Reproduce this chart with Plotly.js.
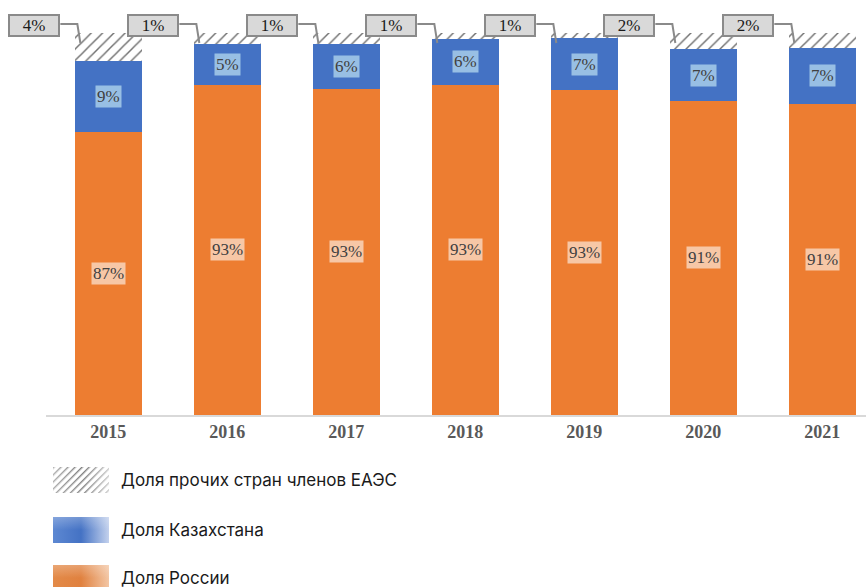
<!DOCTYPE html>
<html>
<head>
<meta charset="utf-8">
<script src="https://cdn.plot.ly/plotly-3.0.1.min.js"></script>
<style>html,body{margin:0;padding:0;background:#fff;}#chart{width:866px;height:587px;}</style>
</head>
<body>
<div id="chart"></div>
<script>
// ---- data (shares, %) ----
const years = ['2015', '2016', '2017', '2018', '2019', '2020', '2021'];
const russia = [87.4, 93.4, 92.9, 93.4, 92.75, 91.35, 90.97];
const kazakhstan = [9.0, 5.2, 5.7, 5.85, 6.6, 6.6, 7.16];
const others = [3.6, 1.4, 1.4, 0.75, 0.65, 2.05, 1.87];
const seriesNames = ['Доля прочих стран членов ЕАЭС', 'Доля Казахстана', 'Доля России'];

// ---- layout geometry ----
const W = 866, H = 587;
const M = {l: 46, r: 0, t: 33, b: 172};
const yMin = 51.4, yMax = 100;
const plotW = W - M.l - M.r, plotH = H - M.t - M.b;
const px2paperX = px => (px - M.l) / plotW;
const px2paperY = py => (H - M.b - py) / plotH;

const idx = years.map((_, i) => i);
const serif = 'Liberation Serif, Times New Roman, serif';

const traces = [
  {type: 'bar', x: idx, y: russia, name: seriesNames[2],
   marker: {color: '#ed7d31', line: {width: 0}}, hoverinfo: 'skip'},
  {type: 'bar', x: idx, y: kazakhstan, name: seriesNames[1],
   marker: {color: '#4472c4', line: {width: 0}}, hoverinfo: 'skip'},
  {type: 'bar', x: idx, y: others, name: seriesNames[0],
   marker: {color: '#ffffff', line: {width: 0},
     pattern: {shape: '/', fgcolor: '#6f6f6f', bgcolor: '#ffffff', size: 8, solidity: 0.18, fillmode: 'replace'}},
   hoverinfo: 'skip'}
];

const annotations = [];
const shapes = [];
idx.forEach(i => {
  // Russia label (centre of the visible segment)
  annotations.push({x: i, y: (yMin + russia[i]) / 2, xref: 'x', yref: 'y', showarrow: false,
    text: Math.round(russia[i]) + '%', font: {family: serif, size: 17, color: '#404040'},
    bgcolor: 'rgba(248,203,173,0.95)', borderpad: 1});
  // Kazakhstan label
  annotations.push({x: i, y: russia[i] + kazakhstan[i] / 2, xref: 'x', yref: 'y', showarrow: false,
    text: Math.round(kazakhstan[i]) + '%', font: {family: serif, size: 17, color: '#404040'},
    bgcolor: 'rgba(157,195,230,0.95)', borderpad: 1});
  // Others callout box (anchored at the top of the stack, clamped to the axis range)
  const top = Math.min(russia[i] + kazakhstan[i] + others[i], yMax - 1e-6);
  annotations.push({x: i, y: top, xref: 'x', yref: 'y', showarrow: false,
    xshift: -74, yshift: 8,
    text: Math.round(others[i]) + '%', font: {family: serif, size: 17, color: '#1a1a1a'},
    bgcolor: '#d9d9d9', bordercolor: '#8a8a8a', borderwidth: 2, borderpad: 1,
    width: 46, height: 17});
  // Leader line (elbow) from the box to the hatched segment
  shapes.push({type: 'path', xref: 'x', yref: 'paper', xsizemode: 'pixel', ysizemode: 'pixel',
    xanchor: i, yanchor: 1, path: 'M-48,9 L-31,9 L-28,-10',
    line: {color: '#8a8a8a', width: 2}, layer: 'above'});
});

// ---- manual legend (large gradient swatches) ----
const svg = s => 'data:image/svg+xml;charset=utf-8,' + encodeURIComponent(s);
const hatchSvg = svg('<svg xmlns="http://www.w3.org/2000/svg" width="56" height="26">' +
  '<defs><pattern id="p" width="5" height="5" patternUnits="userSpaceOnUse" patternTransform="rotate(45)">' +
  '<rect width="1.4" height="5" fill="#777"/></pattern>' +
  '<linearGradient id="f" x1="0" x2="1" y1="0" y2="0"><stop offset="0" stop-color="#fff" stop-opacity="0.4"/>' +
  '<stop offset="0.55" stop-color="#fff" stop-opacity="0.05"/><stop offset="1" stop-color="#fff" stop-opacity="0.6"/></linearGradient></defs>' +
  '<rect width="56" height="26" fill="#fff"/><rect width="56" height="26" fill="url(#p)"/><rect width="56" height="26" fill="url(#f)"/></svg>');
const gradSvg = (c0, c1, c2) => svg('<svg xmlns="http://www.w3.org/2000/svg" width="56" height="26">' +
  '<defs><linearGradient id="g" x1="0" x2="1" y1="0" y2="0">' +
  '<stop offset="0" stop-color="' + c0 + '"/><stop offset="0.5" stop-color="' + c1 + '"/>' +
  '<stop offset="1" stop-color="' + c2 + '"/></linearGradient>' +
  '<linearGradient id="v" x1="0" x2="0" y1="0" y2="1"><stop offset="0" stop-color="#fff" stop-opacity="0.25"/>' +
  '<stop offset="0.5" stop-color="#fff" stop-opacity="0"/></linearGradient></defs>' +
  '<rect width="56" height="26" fill="url(#g)"/><rect width="56" height="26" fill="url(#v)"/></svg>');

const legendRows = [
  {src: hatchSvg, top: 467, text: seriesNames[0]},
  {src: gradSvg('#5d88d2', '#4472c4', '#c3d1ed'), top: 517, text: seriesNames[1]},
  {src: gradSvg('#e38a48', '#e0813f', '#f3c6a4'), top: 565, text: seriesNames[2]}
];
const images = legendRows.map(r => ({source: r.src, xref: 'paper', yref: 'paper',
  x: px2paperX(53), y: px2paperY(r.top), sizex: 56 / plotW, sizey: 26 / plotH,
  xanchor: 'left', yanchor: 'top', sizing: 'stretch', layer: 'above'}));
legendRows.forEach(r => annotations.push({xref: 'paper', yref: 'paper', x: px2paperX(119), y: px2paperY(r.top + 13),
  xanchor: 'left', yanchor: 'middle', showarrow: false, text: r.text,
  font: {family: 'Inter, Roboto, sans-serif', size: 17, color: '#1a1a1a'}}));

const layout = {
  width: W, height: H, margin: M,
  paper_bgcolor: '#ffffff', plot_bgcolor: '#ffffff',
  barmode: 'stack', bargap: 0.437, showlegend: false,
  xaxis: {type: 'linear', range: [-0.524, 6.367], tickmode: 'array', tickvals: idx, ticktext: years,
    showgrid: false, zeroline: false, showline: true, linecolor: '#d9d9d9', linewidth: 1.5,
    ticks: '', tickfont: {family: serif, size: 18, color: '#595959', weight: 'bold'}},
  yaxis: {range: [yMin, yMax], visible: false, showgrid: false, zeroline: false},
  annotations: annotations, shapes: shapes, images: images
};

Plotly.newPlot('chart', traces, layout, {displayModeBar: false, staticPlot: true});
</script>
</body>
</html>
